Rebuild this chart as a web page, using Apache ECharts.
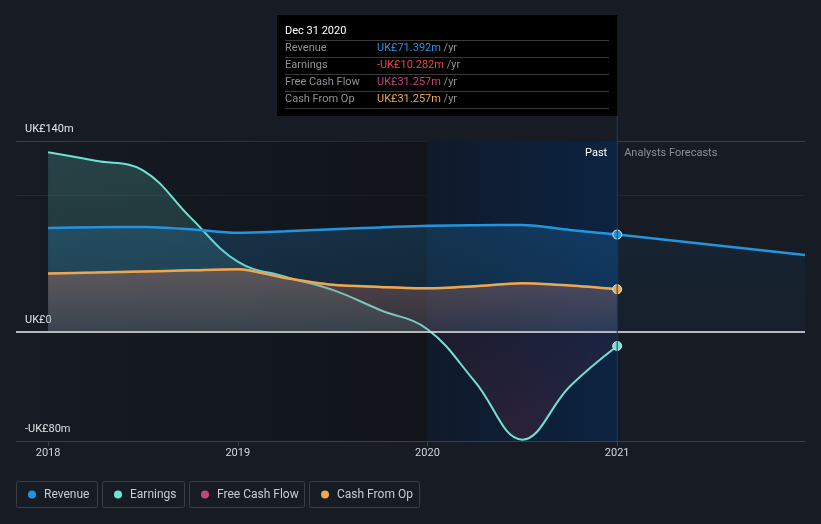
<!DOCTYPE html>
<html><head><meta charset="utf-8">
<script src="https://cdn.jsdelivr.net/npm/echarts@6/dist/echarts.min.js"></script>
<style>html,body{margin:0;padding:0;background:#161b24;}#c{width:821px;height:524px;}</style>
</head><body><div id="c"></div>
<script>
// ---- data ----
const quarters = [2018, 2018.25, 2018.5, 2018.75, 2019, 2019.25, 2019.5, 2019.75, 2020, 2020.25, 2020.5, 2020.75, 2021];
const revenue = [76.2, 76.8, 77.0, 75.3, 72.7, 73.8, 75.3, 76.6, 77.9, 78.3, 78.4, 74.8, 71.4];
const earnings = [131.7, 125.5, 118.5, 84, 51.5, 40.5, 30.8, 16.1, 2, -36.4, -79, -40, -10.3];
const freeCashFlow = [42.8, 43.5, 44.3, 45.2, 46, 39.5, 34.5, 33, 32, 33.5, 35.7, 34, 31.3];
const cashFromOp = [42.8, 43.5, 44.3, 45.2, 46, 39.5, 34.5, 33, 32, 33.5, 35.7, 34, 31.3];
const forecastYears = [2021, 2021.99];
const revenueForecast = [71.4, 56.4];
const xTickYears = [2018, 2019, 2020, 2021];
const yTickValues = [-80, 0, 140];
const yTickLabels = ['-UK£80m', 'UK£0', 'UK£140m'];
const seriesNames = ['Revenue', 'Earnings', 'Free Cash Flow', 'Cash From Op'];
const tooltipDate = 'Dec 31 2020';
const tooltipValues = ['UK£71.392m', '-UK£10.282m', 'UK£31.257m', 'UK£31.257m'];

// ---- style ----
const FONT = 'Roboto, "Noto Sans", sans-serif';
const C_REV = '#2394df', C_EARN = '#6fe3d3', C_FCF = '#c5447f', C_CFO = '#e8a94f';
const seriesColors = [C_REV, C_EARN, C_FCF, C_CFO];
const tooltipValueColors = [C_REV, '#ec4444', C_FCF, C_CFO];

function pts(xs, ys, color, dotLast) {
  return xs.map((x, i) => (dotLast && i === xs.length - 1)
    ? { value: [x, ys[i]], symbol: 'circle', symbolSize: 9, itemStyle: { color: color, borderColor: '#dfe3e8', borderWidth: 1 } }
    : [x, ys[i]]);
}
function vgrad(c0, c1) {
  return new echarts.graphic.LinearGradient(0, 0, 0, 1, [{ offset: 0, color: c0 }, { offset: 1, color: c1 }]);
}

const GRID_TOP = 141, GRID_H = 300, YMIN = -80, YMAX = 140;
const zeroOff = YMAX / (YMAX - YMIN);

const splitColors = [];
for (let v = YMIN; v <= YMAX; v += 20) {
  if (v === 140) splitColors.push('#3a3f47');
  else if (v === 100) splitColors.push('#252a31');
  else splitColors.push('rgba(0,0,0,0)');
}

const chart = echarts.init(document.getElementById('c'), null, { renderer: 'canvas' });

const option = {
  backgroundColor: '#161b24',
  animation: false,
  textStyle: { fontFamily: FONT },
  grid: { left: 16, right: 16, top: GRID_TOP, height: GRID_H },
  xAxis: {
    type: 'value', min: 2017.831, max: 2021.99,
    axisLine: { show: true, onZero: false, lineStyle: { color: '#3a3f47', width: 1 } },
    axisTick: { show: true, customValues: xTickYears, length: 5, lineStyle: { color: '#3a3f47' } },
    axisLabel: { customValues: xTickYears, color: '#d4d7db', fontSize: 11, margin: 7, fontFamily: FONT, formatter: v => String(Math.round(v)) },
    splitLine: { show: false }
  },
  yAxis: {
    type: 'value', min: YMIN, max: YMAX, interval: 20,
    axisLine: { show: false }, axisTick: { show: false },
    axisLabel: {
      inside: true, margin: 9, color: '#e6e8ea', fontSize: 11, fontFamily: FONT,
      verticalAlign: 'bottom', lineHeight: 12, padding: [0, 0, 6, 0],
      formatter: v => { const i = yTickValues.indexOf(v); return i >= 0 ? yTickLabels[i] : ''; }
    },
    splitLine: { show: true, lineStyle: { color: splitColors, width: 1 } }
  },
  series: [
    { // background bands
      type: 'line', data: [], z: 1, silent: true,
      markArea: {
        silent: true,
        data: [
          [{ xAxis: 2017.831, itemStyle: { color: new echarts.graphic.LinearGradient(0, 0, 1, 0, [{ offset: 0, color: 'rgba(12,14,18,0)' }, { offset: 1, color: 'rgba(12,14,18,0.55)' }]) } }, { xAxis: 2020 }],
          [{ xAxis: 2020, itemStyle: { color: new echarts.graphic.LinearGradient(0, 0, 1, 0, [{ offset: 0, color: '#101a29' }, { offset: 1, color: '#0c2342' }]) } }, { xAxis: 2021 }]
        ]
      }
    },
    {
      name: seriesNames[1], type: 'line', z: 3, smooth: 0.4, symbol: 'none', showSymbol: true,
      data: pts(quarters, earnings, C_EARN, true),
      lineStyle: { color: C_EARN, width: 2 },
      itemStyle: { color: C_EARN },
      areaStyle: {
        color: { type: 'linear', x: 0, y: GRID_TOP, x2: 0, y2: GRID_TOP + GRID_H, global: true, colorStops: [
          { offset: 0, color: 'rgba(111,227,211,0.30)' },
          { offset: zeroOff - 0.001, color: 'rgba(111,227,211,0.14)' },
          { offset: zeroOff, color: 'rgba(200,50,80,0.10)' },
          { offset: 1, color: 'rgba(200,50,80,0.22)' }
        ] }
      }
    },
    {
      name: seriesNames[0], type: 'line', z: 4, smooth: 0.3, symbol: 'none', showSymbol: true,
      data: pts(quarters, revenue, C_REV, true),
      lineStyle: { color: C_REV, width: 2.5 },
      itemStyle: { color: C_REV },
      areaStyle: { color: vgrad('rgba(35,148,223,0.30)', 'rgba(35,148,223,0.18)') }
    },
    {
      name: seriesNames[0] + ' forecast', type: 'line', z: 4, smooth: false, symbol: 'none',
      data: pts(forecastYears, revenueForecast, C_REV, false),
      lineStyle: { color: C_REV, width: 2.5 },
      areaStyle: { color: vgrad('rgba(35,148,223,0.10)', 'rgba(35,148,223,0.05)') }
    },
    {
      name: seriesNames[2], type: 'line', z: 5, smooth: 0.3, symbol: 'none',
      data: pts(quarters, freeCashFlow, C_FCF, false),
      lineStyle: { color: C_FCF, width: 2 },
      areaStyle: { color: vgrad('rgba(197,68,127,0.25)', 'rgba(197,68,127,0.12)') }
    },
    {
      name: seriesNames[3], type: 'line', z: 6, smooth: 0.3, symbol: 'none', showSymbol: true,
      data: pts(quarters, cashFromOp, C_CFO, true),
      lineStyle: { color: C_CFO, width: 2.5 },
      itemStyle: { color: C_CFO },
      areaStyle: { color: vgrad('rgba(232,169,79,0.25)', 'rgba(232,169,79,0.10)') },
      markLine: {
        silent: true, symbol: 'none', label: { show: false },
        lineStyle: { color: '#eceef0', width: 1.5, type: 'solid' },
        data: [{ yAxis: 0 }]
      }
    }
  ]
};
chart.setOption(option);

// ---- decorations (tooltip box, legend, past/forecast divider) ----
const xNow = chart.convertToPixel({ xAxisIndex: 0 }, 2021);
const yBottom = chart.convertToPixel({ yAxisIndex: 0 }, YMIN);
const yTop = chart.convertToPixel({ yAxisIndex: 0 }, YMAX);

const g = [];
g.push({ type: 'line', z: 50, silent: true, shape: { x1: xNow, y1: 116, x2: xNow, y2: yBottom }, style: { stroke: '#1d3b66', lineWidth: 1 } });
g.push({ type: 'text', z: 50, x: xNow - 10, y: yTop + 12, style: { text: 'Past', fill: '#ffffff', font: '11px ' + FONT, align: 'right', verticalAlign: 'middle' } });
g.push({ type: 'text', z: 50, x: xNow + 7, y: yTop + 12, style: { text: 'Analysts Forecasts', fill: '#8c9198', font: '11px ' + FONT, align: 'left', verticalAlign: 'middle' } });

const tbLeft = 277, tbTop = 15, tbW = xNow - 277, tbH = 101;
g.push({ type: 'rect', z: 60, shape: { x: tbLeft, y: tbTop, width: tbW, height: tbH }, style: { fill: '#000000' } });
g.push({ type: 'text', z: 61, x: 285, y: 31, style: { text: tooltipDate, fill: '#ffffff', font: '11px ' + FONT, verticalAlign: 'middle' } });
for (let i = 0; i < 5; i++) {
  g.push({ type: 'line', z: 61, shape: { x1: 285, y1: 40.5 + 17 * i, x2: 609, y2: 40.5 + 17 * i }, style: { stroke: '#3a3a3a', lineWidth: 1 } });
}
seriesNames.forEach((n, i) => {
  const y = 48.5 + 17 * i;
  g.push({ type: 'text', z: 61, x: 285, y: y, style: { text: n, fill: '#8e9196', font: '11px ' + FONT, verticalAlign: 'middle' } });
  g.push({ type: 'text', z: 61, x: 377, y: y, style: { rich: { v: { fill: tooltipValueColors[i], font: '11px ' + FONT }, u: { fill: '#8e9196', font: '11px ' + FONT } }, text: '{v|' + tooltipValues[i] + '}{u| /yr}', verticalAlign: 'middle' } });
});

const legX = [16, 102, 189, 309], legW = [81, 82, 115, 110];
seriesNames.forEach((n, i) => {
  g.push({ type: 'rect', z: 50, shape: { x: legX[i] + 0.5, y: 481.5, width: legW[i], height: 26, r: 2 }, style: { fill: '#161b24', stroke: '#3a3f47', lineWidth: 1 } });
  g.push({ type: 'circle', z: 51, shape: { cx: legX[i] + 16, cy: 494.5, r: 4 }, style: { fill: seriesColors[i] } });
  g.push({ type: 'text', z: 51, x: legX[i] + 28, y: 494.5, style: { text: n, fill: '#c9cdd2', font: '12px ' + FONT, verticalAlign: 'middle' } });
});
chart.setOption({ graphic: g });
</script></body></html>
